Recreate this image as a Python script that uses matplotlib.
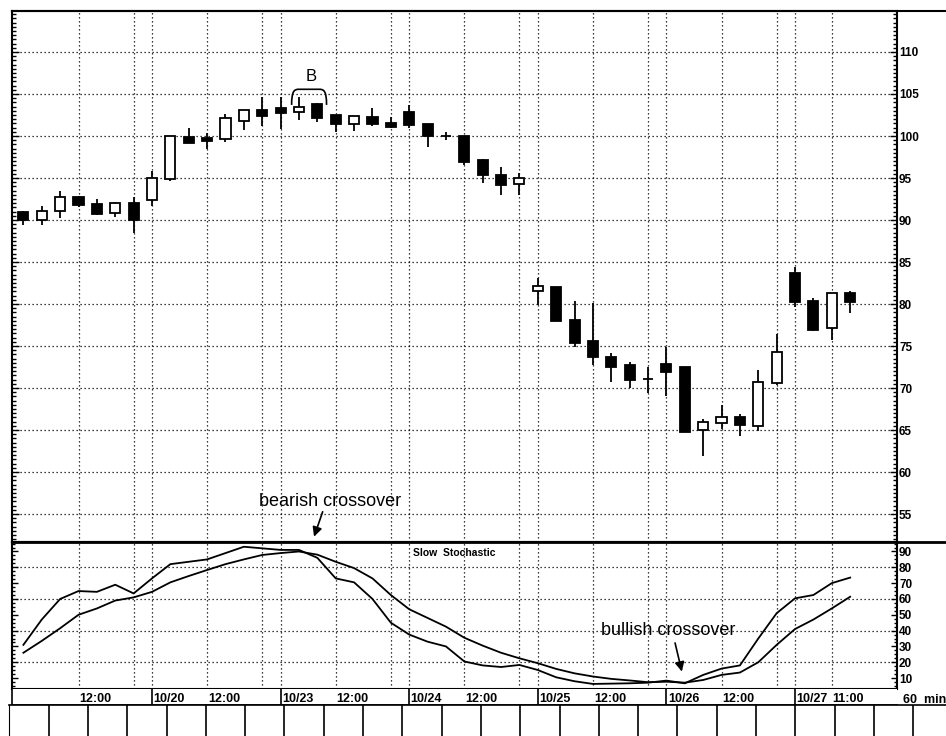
import matplotlib
matplotlib.use('Agg')
import matplotlib.pyplot as plt
import numpy as np
from matplotlib.path import Path
from matplotlib.patches import PathPatch
from matplotlib.lines import Line2D
from matplotlib.ticker import MultipleLocator

plt.rcParams['font.family'] = ['Liberation Sans', 'DejaVu Sans']

# ---- data: hourly candles (open, high, low, close) ----
opens = [90.9, 90.0, 91.1, 92.7, 91.9, 90.8, 92.0,
         92.4, 94.9, 99.9, 99.8, 99.7, 101.8, 103.1,
         103.3, 102.85, 103.8, 102.5, 101.4, 102.3, 101.6,
         102.9, 101.4, 100.0, 100.0, 97.1, 95.4, 94.25,
         81.5, 82.0, 78.1, 75.6, 73.7, 72.7, 71.1,
         72.9, 72.5, 65.0, 65.8, 66.5, 65.5, 70.6,
         83.7, 80.3, 77.1, 81.3]
highs = [91.1, 91.7, 93.5, 92.9, 92.5, 92.2, 92.7,
         95.8, 100.0, 100.9, 100.3, 102.6, 103.1, 104.6,
         104.6, 104.6, 103.9, 102.5, 102.4, 103.3, 102.3,
         103.7, 101.4, 100.5, 100.0, 97.3, 96.3, 95.6,
         83.05, 82.0, 80.3, 80.1, 74.2, 73.1, 72.5,
         74.9, 72.5, 66.3, 68.0, 66.9, 72.1, 76.4,
         84.4, 80.7, 81.3, 81.5]
lows = [89.4, 89.4, 90.2, 91.5, 90.6, 90.3, 88.5,
        91.7, 94.7, 99.2, 98.5, 99.3, 100.7, 101.2,
        100.8, 101.9, 101.7, 100.5, 100.6, 101.2, 100.9,
        100.9, 98.7, 99.5, 96.5, 94.4, 93.0, 93.0,
        79.9, 78.0, 74.9, 72.7, 70.7, 70.0, 69.4,
        69.0, 64.8, 61.9, 65.1, 64.3, 64.9, 70.4,
        79.7, 76.8, 75.7, 78.9]
closes = [90.0, 91.1, 92.7, 91.8, 90.7, 92.0, 90.0,
          95.0, 100.0, 99.2, 99.4, 102.1, 103.1, 102.4,
          102.7, 103.5, 102.2, 101.4, 102.4, 101.4, 101.1,
          101.3, 100.0, 100.0, 96.9, 95.4, 94.2, 95.0,
          82.1, 78.0, 75.4, 73.7, 72.5, 71.0, 71.1,
          71.9, 64.8, 66.0, 66.5, 65.6, 70.7, 74.3,
          80.2, 76.9, 81.3, 80.2]

# ---- slow stochastic ----
stoch_k = [31, 47, 60, 65, 64.5, 69, 63.5,
           73, 82, 83.5, 85, 89, 93, 92,
           91, 91, 86, 73, 70.5, 60, 45,
           37.5, 33, 30, 20.5, 18, 17, 18.3,
           15.1, 10.5, 8, 6.3, 6.5, 6.7, 7.1,
           8.4, 6.7, 12, 16, 18, 35, 51,
           60.4, 62.5, 70, 73.5]
stoch_d = [26, 33.5, 41.5, 50, 54, 59, 61,
           64.5, 70.5, 74.5, 78.3, 82, 85, 87.8,
           89, 90, 88, 83.5, 79.5, 73, 62.5,
           53.5, 48, 42.5, 35.5, 30.5, 26, 22.5,
           19.4, 15.8, 13, 11, 9.5, 8.5, 7.4,
           7.7, 7.1, 8.8, 12, 13.5, 20, 31,
           41, 47, 54, 61.4]

price_ticks = list(range(55, 111, 5))
stoch_ticks = list(range(10, 91, 10))
stoch_grid = [20, 40, 60, 80]
grid_pos = [3, 6, 7, 10, 13, 14, 17, 20, 21, 24, 27, 28, 31, 34, 35, 38, 41, 42, 44]
day_pos = [7, 14, 21, 28, 35, 42]
day_labels = ['10/20', '10/23', '10/24', '10/25', '10/26', '10/27']
time_pos = [3, 10, 17, 24, 31, 38, 44]
time_labels = ['12:00', '12:00', '12:00', '12:00', '12:00', '12:00', '11:00']

W, H = 946, 736
fig = plt.figure(figsize=(W / 100, H / 100), dpi=100)


def rect(x0, y0, x1, y1):
    return [x0 / W, 1 - y1 / H, (x1 - x0) / W, (y1 - y0) / H]


XL = (-0.62, 47.55)
ax = fig.add_axes(rect(12, 11, 897, 542))
ax2 = fig.add_axes(rect(12, 542, 897, 689))
ax3 = fig.add_axes(rect(12, 689, 897, 705))
ax4 = fig.add_axes(rect(9, 705, 946, 736))

dot = (0, (1, 2.2))
GL = dict(color='black', lw=0.9, linestyle=dot, zorder=1)

# ---- main candle panel ----
x = np.arange(len(opens))
o = np.array(opens)
c = np.array(closes)
body_bottom = np.minimum(o, c)
body_h = np.abs(c - o)
colors = np.where(c >= o, 'white', 'black')
for p in price_ticks:
    ax.axhline(p, **GL)
for g in grid_pos:
    ax.axvline(g, **GL)
ax.vlines(x, lows, highs, color='black', lw=1.3, zorder=2)
ax.bar(x, body_h, bottom=body_bottom, width=0.55, color=colors,
       edgecolor='black', linewidth=1.3, zorder=3)
ax.set_xlim(*XL)
ax.set_ylim(51.67, 114.88)
ax.set_xticks([])
ax.set_yticks(price_ticks)
ax.yaxis.set_minor_locator(MultipleLocator(0.5))
ax.yaxis.tick_right()
ax.tick_params(axis='y', which='both', direction='in', left=True, right=True,
               labelleft=False, labelright=True, labelsize=8.5, pad=1.5,
               width=1)
ax.tick_params(axis='y', which='major', length=5)
ax.tick_params(axis='y', which='minor', length=3)
for lbl in ax.get_yticklabels():
    lbl.set_fontweight('bold')
for s in ax.spines.values():
    s.set_linewidth(1.5)

# bracket + B
verts = [(14.6, 103.7), (14.6, 105.4), (14.75, 105.56), (15.0, 105.56),
         (16.1, 105.56), (16.35, 105.56), (16.5, 105.4), (16.5, 103.7)]
codes = [Path.MOVETO, Path.CURVE4, Path.CURVE4, Path.CURVE4,
         Path.LINETO, Path.CURVE4, Path.CURVE4, Path.CURVE4]
ax.add_patch(PathPatch(Path(verts, codes), fill=False, lw=1.2, color='black', zorder=4))
ax.text(15.64, 106.58, 'B', ha='center', va='baseline', fontsize=12)

ax.text(16.69, 55.95, 'bearish crossover', ha='center', va='baseline', fontsize=13)
ax.annotate('', xy=(15.82, 52.3), xytext=(16.29, 55.27),
            arrowprops=dict(arrowstyle='-|>', color='black', lw=1.2,
                            mutation_scale=14, shrinkA=0, shrinkB=0))

# ---- stochastic panel ----
for p in stoch_grid:
    ax2.axhline(p, **GL)
for g in grid_pos:
    ax2.axvline(g, **GL)
ax2.plot(x, stoch_k, color='black', lw=1.3, zorder=3)
ax2.plot(x, stoch_d, color='black', lw=1.3, zorder=3)
ax2.set_xlim(*XL)
ax2.set_ylim(3.1, 96.0)
ax2.set_xticks([])
ax2.set_yticks(stoch_ticks)
ax2.yaxis.set_minor_locator(MultipleLocator(2.5))
ax2.yaxis.tick_right()
ax2.tick_params(axis='y', which='both', direction='in', left=True, right=True,
                labelleft=False, labelright=True, labelsize=8.5, pad=1.5, width=1)
ax2.tick_params(axis='y', which='major', length=4)
ax2.tick_params(axis='y', which='minor', length=2.5)
for lbl in ax2.get_yticklabels():
    lbl.set_fontweight('bold')
for s in ax2.spines.values():
    s.set_linewidth(1.5)
ax2.text(0.5, 87.15, 'Slow  Stochastic', transform=ax2.get_yaxis_transform(),
         ha='center', va='baseline', fontsize=7.5, fontweight='bold')
ax2.text(35.12, 37.2, 'bullish crossover', ha='center', va='baseline', fontsize=13)
ax2.annotate('', xy=(35.84, 14.1), xytext=(35.47, 32.2),
             arrowprops=dict(arrowstyle='-|>', color='black', lw=1.2,
                             mutation_scale=14, shrinkA=0, shrinkB=0))

# ---- date label strip ----
ax3.set_xlim(*XL)
ax3.set_ylim(0, 1)
ax3.set_xticks([])
ax3.set_yticks([])
ax3.spines['top'].set_visible(False)
ax3.spines['right'].set_visible(False)
ax3.spines['left'].set_linewidth(1.2)
ax3.spines['bottom'].set_linewidth(1.2)
for pos in day_pos:
    ax3.axvline(pos, color='black', lw=1.2)
for pos, lab in zip(day_pos, day_labels):
    ax3.text(pos + 0.08, 0.21, lab, ha='left', va='baseline', fontsize=9,
             fontweight='bold')
for pos, lab in zip(time_pos, time_labels):
    ax3.text(pos + 0.05, 0.21, lab, ha='left', va='baseline', fontsize=9,
             fontweight='bold')
fig.text(903 / W, 1 - 703 / H, '60  min', ha='left', va='baseline', fontsize=9,
         fontweight='bold')

# ---- bottom scale box ----
ax4.set_xlim(9, 946)
ax4.set_ylim(0, 1)
ax4.set_xticks([])
ax4.set_yticks([])
for k in np.arange(9.3, 946, 39.3):
    ax4.axvline(k, color='black', lw=1.2)
for side in ['right', 'bottom']:
    ax4.spines[side].set_visible(False)
ax4.spines['top'].set_linewidth(1.2)

# frame lines spanning the right margin
fig.add_artist(Line2D([12 / W, 1], [1 - 11 / H, 1 - 11 / H], color='black', lw=1.5))
fig.add_artist(Line2D([12 / W, 1], [1 - 542 / H, 1 - 542 / H], color='black', lw=2))

fig.savefig('out.png', dpi=100)
